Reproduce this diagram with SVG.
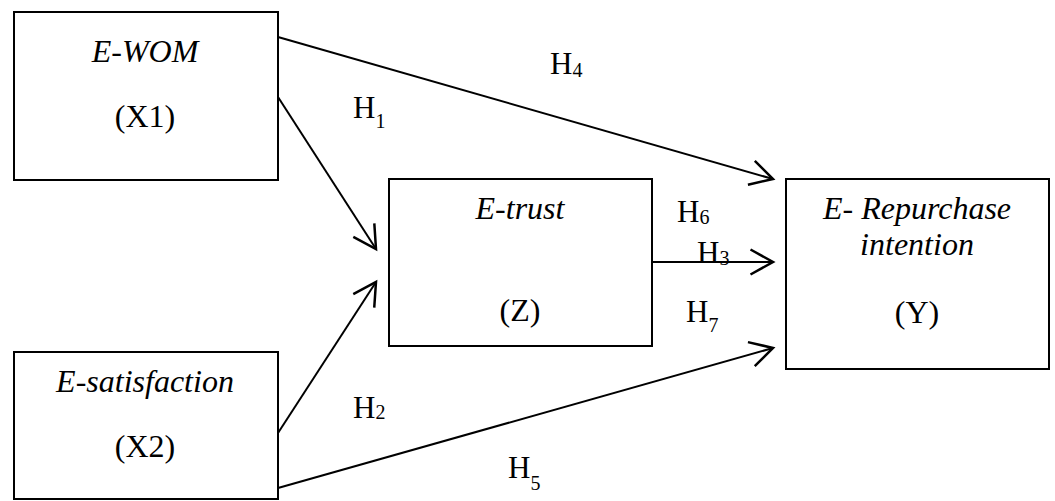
<svg xmlns="http://www.w3.org/2000/svg" width="1055" height="501" viewBox="0 0 1055 501">
<style>
.box{fill:#fff;stroke:#000;stroke-width:2}
.lbl{font-family:"Liberation Serif","Times New Roman",serif;font-size:32px;fill:#000;text-anchor:middle}
.it{font-style:italic}
.h{font-family:"Liberation Serif","Times New Roman",serif;font-size:31px;fill:#000}
.sub{font-size:20px}
.edge{stroke:#000;stroke-width:2;fill:none;marker-end:url(#arr)}
</style>
<defs>
<marker id="arr" markerUnits="userSpaceOnUse" markerWidth="30" markerHeight="30" viewBox="-20 -12 22 24" refX="0" refY="0" orient="auto">
<path d="M-18,-10 L0,0 L-18,10" fill="none" stroke="#000" stroke-width="2"/>
</marker>
</defs>
<rect width="1055" height="501" fill="#fff"/>
<g id="node-x1">
<rect class="box" x="14" y="12" width="264" height="168"/>
<text class="lbl it" x="145" y="62">E-WOM</text>
<text class="lbl" x="145" y="127">(X1)</text>
</g>
<g id="node-z">
<rect class="box" x="389" y="179" width="263" height="167"/>
<text class="lbl it" x="520" y="219">E-trust</text>
<text class="lbl" x="520" y="321">(Z)</text>
</g>
<g id="node-y">
<rect class="box" x="786" y="179" width="263" height="190"/>
<text class="lbl it" x="917" y="219">E- Repurchase</text>
<text class="lbl it" x="917" y="255">intention</text>
<text class="lbl" x="917" y="323">(Y)</text>
</g>
<g id="node-x2">
<rect class="box" x="14" y="352" width="264" height="147"/>
<text class="lbl it" x="145" y="392">E-satisfaction</text>
<text class="lbl" x="145" y="457">(X2)</text>
</g>
<g id="labels">
<text class="h" x="550" y="74">H<tspan class="sub" dy="3">4</tspan></text>
<text class="h" x="353" y="118">H<tspan class="sub" dy="10">1</tspan></text>
<text class="h" x="677" y="222">H<tspan class="sub" dy="2">6</tspan></text>
<text class="h" x="697" y="263">H<tspan class="sub" dy="2">3</tspan></text>
<text class="h" x="686" y="322">H<tspan class="sub" dy="10">7</tspan></text>
<text class="h" x="353" y="418">H<tspan class="sub" dy="1">2</tspan></text>
<text class="h" x="508" y="478">H<tspan class="sub" dy="12">5</tspan></text>
</g>
<g id="connectors">
<line class="edge" x1="278" y1="37" x2="773" y2="179"/>
<line class="edge" x1="278" y1="97" x2="376" y2="249"/>
<line class="edge" x1="278" y1="433" x2="376" y2="282"/>
<line class="edge" x1="278" y1="488" x2="773" y2="348"/>
<line class="edge" x1="652" y1="262" x2="773" y2="262"/>
</g>
</svg>
